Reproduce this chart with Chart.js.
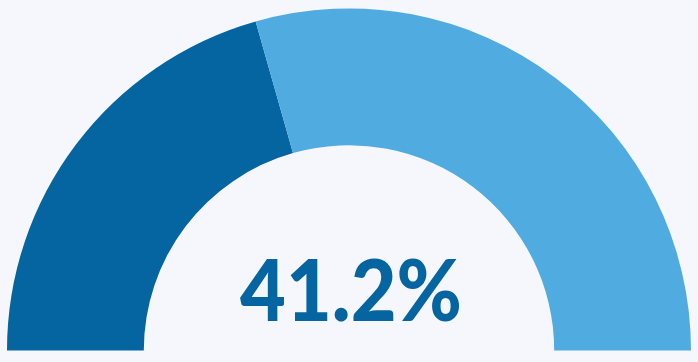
<!DOCTYPE html>
<html>
<head>
<meta charset="utf-8">
<script src="https://cdn.jsdelivr.net/npm/chart.js@4.4.0/dist/chart.umd.min.js"></script>
<style>
  html, body { margin: 0; padding: 0; background: #f5f7fc; }
  #wrap { width: 698px; height: 362px; }
</style>
</head>
<body>
<div id="wrap"><canvas id="gauge" width="698" height="362"></canvas></div>
<script>
// gauge data
var labels = ['Done', 'Remaining'];
var values = [41.2, 58.8];
var colors = ['#0565a1', '#50ace0'];
var centerText = '41.2%';

// draw the percentage in the hole
var centerLabel = {
  id: 'centerLabel',
  afterDraw: function (chart) {
    var arc = chart.getDatasetMeta(0).data[0];
    var ctx = chart.ctx;
    ctx.save();
    ctx.font = '900 86px Lato, sans-serif';
    ctx.fillStyle = '#0565a1';
    ctx.textAlign = 'center';
    ctx.textBaseline = 'alphabetic';
    ctx.fillText(centerText, arc.x + 2, 321, 222);
    ctx.restore();
  }
};

new Chart(document.getElementById('gauge'), {
  type: 'doughnut',
  data: {
    labels: labels,
    datasets: [{
      data: values,
      backgroundColor: colors,
      borderWidth: 0
    }]
  },
  options: {
    responsive: false,
    animation: false,
    rotation: -90,
    circumference: 180,
    cutout: '60%',
    layout: { padding: { left: 7, right: 7, top: 8, bottom: 11 } },
    plugins: {
      legend: { display: false },
      tooltip: { enabled: false }
    }
  },
  plugins: [centerLabel]
});
</script>
</body>
</html>
